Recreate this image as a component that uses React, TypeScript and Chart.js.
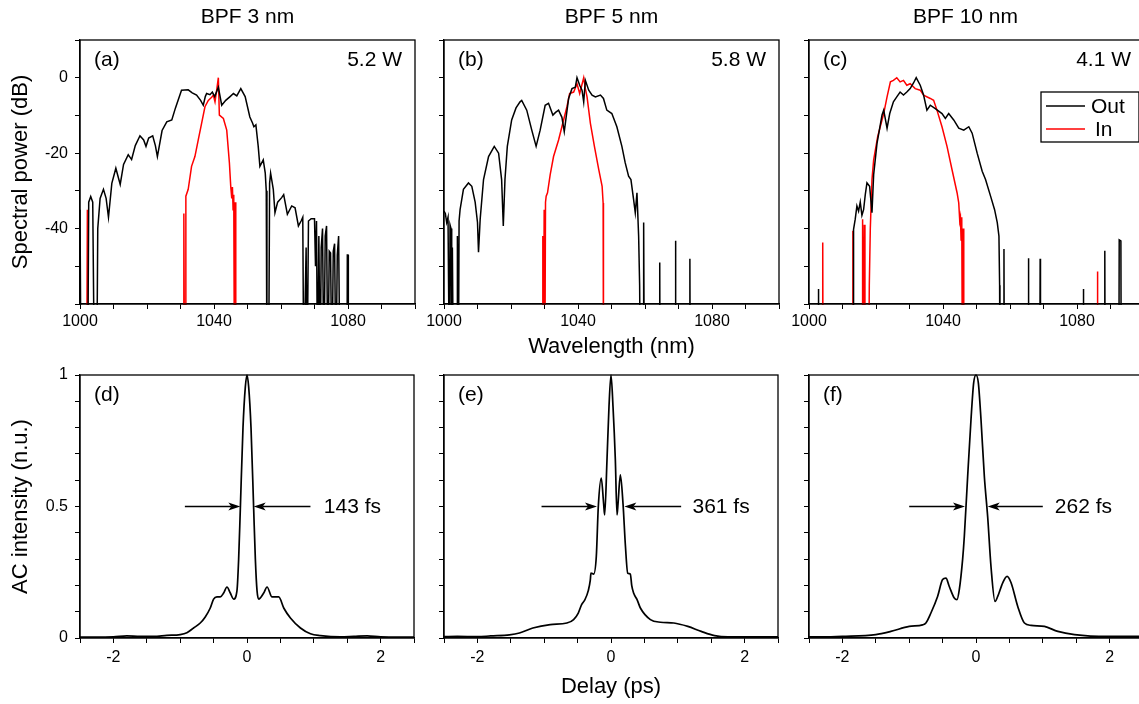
import React, { useEffect, useRef } from "react";
import { Chart, registerables } from "chart.js";

Chart.register(...registerables);

const FONT = "'Liberation Sans', Arial, Helvetica, sans-serif";

// ---------------- text / ticks ----------------
const panelTitles = ["BPF 3 nm", "BPF 5 nm", "BPF 10 nm"];
const panelLetters = ["(a)", "(b)", "(c)", "(d)", "(e)", "(f)"];
const powerLabels = ["5.2 W", "5.8 W", "4.1 W"];
const fwhmLabels = ["143 fs", "361 fs", "262 fs"];
const seriesNames = ["Out", "In"];
const wavelengthLabelTicks = [1000, 1040, 1080];
const powerLabelTicks = [0, -20, -40];
const delayLabelTicks = [-2, 0, 2];
const acLabelTicks = [0, 0.5, 1];

// ---------------- spectra (nm, dB) ----------------
const specOutA: [number, number][] = [
  [1000, -35], [1000.3, -80], [1002.3, -80], [1002.6, -33], [1003.2, -31.5], [1003.8, -33], [1004.3, -80],
  [1005.0, -80], [1005.3, -40], [1006, -32], [1007, -29.6], [1007.8, -32], [1008.5, -37], [1009.5, -28],
  [1010.7, -24], [1012, -28.3], [1013, -23], [1014.4, -20.4], [1015.4, -21.7], [1016.5, -18], [1017.9, -15.4],
  [1019, -16.5], [1019.7, -18.2], [1020.5, -16], [1021.7, -15.4], [1022.5, -18], [1023.1, -20.9], [1024.5, -14],
  [1025.9, -11.7], [1027.4, -11.2], [1028.5, -8], [1030.3, -3.3], [1032.3, -3.2], [1033.5, -4], [1034.8, -4.6],
  [1036.0, -6], [1036.8, -7.3], [1037.4, -5], [1037.8, -4.2], [1038.8, -4.5], [1039.5, -3.8], [1040.2, -5],
  [1041.3, -2.5], [1042.3, -7.3], [1043.5, -6], [1044.8, -5], [1045.8, -4.2], [1046.8, -4.8], [1048, -2.9],
  [1049.3, -5], [1050.7, -10.4], [1051.5, -12], [1051.9, -13], [1052.5, -12.5], [1053.2, -18.2], [1053.7, -23.5],
  [1054.7, -21.8], [1055.3, -25.3], [1055.6, -30], [1055.8, -80], [1056.3, -80], [1056.6, -28], [1056.9, -25.3],
  [1057.7, -29.6], [1058.2, -35.8], [1059, -33], [1060.2, -31.8], [1060.8, -31], [1061.9, -36.2], [1063.2, -34],
  [1064.2, -34.5], [1065.2, -39.3], [1066, -38], [1066.5, -37], [1066.8, -80], [1067.5, -45], [1067.8, -80],
  [1068.2, -38], [1069, -37.4], [1070, -37.4], [1070.3, -50], [1070.6, -38], [1070.9, -80], [1071.3, -42],
  [1071.7, -80], [1072, -45], [1072.4, -40], [1072.8, -80], [1073.2, -42], [1073.6, -39.3], [1074, -80],
  [1074.4, -46], [1074.8, -46.5], [1075.2, -80], [1075.6, -46], [1076, -44], [1076.4, -80], [1076.8, -47],
  [1077.2, -42], [1077.6, -80], [1079.7, -80], [1079.8, -47], [1080.0, -47], [1080.1, -80],
];
const specInA: [number, number][] = [
  [1002.0, -80], [1002.2, -35], [1002.4, -80], [1030.9, -80], [1031.0, -36], [1031.2, -80], [1031.4, -80],
  [1031.6, -31.4], [1032.3, -29.6], [1033.3, -23.5], [1034.3, -20.9], [1035.3, -16.5], [1036.3, -12.1],
  [1037.3, -7.7], [1038.3, -6], [1039.3, -5.2], [1039.8, -4.6], [1040.3, -6.4], [1040.8, -3.3], [1041.3, 0],
  [1041.6, -9.9], [1042.8, -10.8], [1043.8, -13.9], [1044.6, -22.6], [1045.0, -28.8], [1045.3, -32],
  [1045.5, -29], [1045.7, -35], [1045.9, -31], [1046.1, -80], [1046.3, -33], [1046.5, -80],
];
const specOutB: [number, number][] = [
  [1000, -35.4], [1000.4, -36], [1000.8, -38.4], [1001.2, -37], [1001.6, -80], [1001.8, -39], [1002.1, -40],
  [1002.3, -80], [1002.5, -45], [1002.8, -80], [1003.9, -80], [1004.0, -42], [1004.3, -80], [1004.5, -38],
  [1004.8, -35], [1005.8, -29.6], [1007.3, -27.9], [1008.3, -28.8], [1009.3, -33], [1010.0, -38.4],
  [1010.3, -46.3], [1010.8, -37.5], [1011.8, -27], [1013.3, -20.9], [1015.0, -18.2], [1016.3, -20],
  [1017.2, -27], [1017.7, -39.3], [1018.2, -27], [1018.9, -18.2], [1020.2, -11.2], [1021.5, -8], [1022.7, -6.4],
  [1023.2, -6], [1024.7, -8.6], [1026.2, -13.9], [1027.5, -18.2], [1028.7, -13.9], [1030.2, -7.3],
  [1031.2, -6.8], [1032.5, -9.9], [1033.3, -9.2], [1034.2, -8.6], [1035.2, -10.5], [1035.9, -14.3],
  [1036.6, -9.5], [1037.2, -5.5], [1038.2, -2.9], [1039.2, -2.5], [1039.7, 0], [1040.5, -2], [1041.2, -3.3],
  [1041.7, -6.4], [1042.2, -0.7], [1043.2, -3.3], [1044.2, -4.6], [1045.2, -5.1], [1046.7, -4.6], [1047.6, -5.5],
  [1048.6, -8.6], [1050.1, -9.5], [1051.6, -13], [1053.1, -18.2], [1054.1, -22.6], [1055.1, -26.1],
  [1055.8, -27], [1056.6, -32.3], [1057.1, -35.8], [1057.6, -30.5], [1058.1, -42], [1058.4, -55], [1058.6, -80],
  [1059.5, -80], [1059.6, -38.4], [1059.8, -80], [1064.3, -80], [1064.4, -49], [1064.5, -80], [1069.0, -80],
  [1069.1, -43.2], [1069.2, -80], [1073.3, -80], [1073.4, -48], [1073.5, -80],
];
const specInB: [number, number][] = [
  [1029.4, -80], [1029.5, -42], [1029.7, -80], [1029.9, -35], [1030.1, -80], [1030.3, -33], [1030.5, -31.4],
  [1030.9, -30.5], [1031.7, -25.7], [1032.7, -20.9], [1034.2, -16.5], [1035.7, -11.2], [1036.7, -7.7],
  [1037.5, -4.2], [1038.7, -3.8], [1039.7, -1.6], [1040.5, -4.2], [1041.7, 0], [1042.2, -2.9], [1042.7, -5.1],
  [1043.7, -12.1], [1044.9, -18.2], [1046.2, -24.4], [1047.2, -28.8], [1047.5, -33.2], [1047.6, -80],
];
const specOutC: [number, number][] = [
  [1002.7, -80], [1002.8, -56], [1002.9, -80], [1013.2, -80], [1013.3, -40.2], [1013.8, -37.5], [1014.3, -34],
  [1014.8, -35.4], [1015.3, -33], [1015.8, -36.5], [1016.3, -35], [1016.8, -31], [1017.3, -27.9],
  [1018.1, -28.8], [1018.8, -35.8], [1019.3, -25.7], [1020.3, -17.4], [1021.8, -9.9], [1022.3, -8.6],
  [1023.3, -13.4], [1024.1, -9.5], [1025.2, -6.4], [1026.2, -5.1], [1027.2, -3.8], [1028.2, -4.6],
  [1029.2, -3.8], [1030.2, -2.9], [1031.2, -1.4], [1032.0, 0], [1033.2, -2], [1034.2, -4.6], [1035.2, -8.6],
  [1036.2, -7.3], [1037.7, -8.2], [1039.7, -9.5], [1040.7, -10.8], [1041.7, -9.5], [1043.2, -11.2],
  [1044.7, -13.4], [1046.2, -13.9], [1047.7, -13], [1048.7, -14.7], [1050.2, -20], [1051.7, -24.8],
  [1052.7, -27], [1054.2, -31.4], [1055.4, -35], [1056.2, -38.4], [1056.7, -42], [1056.9, -55], [1057.0, -80],
  [1058.1, -80], [1058.2, -45.4], [1058.3, -80], [1065.4, -80], [1065.5, -47.9], [1065.6, -80], [1068.9, -80],
  [1069.0, -48], [1069.1, -80], [1081.8, -80], [1081.9, -56], [1082.0, -80], [1088.2, -80], [1088.3, -45.9],
  [1088.4, -80], [1092.5, -80], [1092.6, -43], [1093.1, -43.3], [1093.2, -80],
];
const specInC: [number, number][] = [
  [1004.0, -80], [1004.1, -43.7], [1004.2, -80], [1013.0, -80], [1013.1, -40.6], [1013.2, -80], [1015.9, -80],
  [1016.0, -37.5], [1016.2, -80], [1016.5, -39], [1016.7, -80], [1017.8, -80], [1018.0, -55], [1018.3, -40],
  [1018.8, -27], [1019.3, -21.8], [1020.5, -15.6], [1022.3, -9.5], [1023.3, -5.1], [1024.3, -1.1],
  [1025.2, -0.7], [1026.2, 0], [1027.2, -1.1], [1028.2, -0.7], [1029.2, -2], [1030.2, -1.6], [1031.7, -2.9],
  [1033.2, -3.3], [1034.2, -4.6], [1036.2, -5.5], [1037.2, -6], [1038.2, -8.6], [1039.7, -13], [1041.2, -18.2],
  [1042.7, -24.4], [1044.2, -30.5], [1044.7, -33.2], [1045.0, -38], [1045.2, -37], [1045.4, -43],
  [1045.6, -37], [1045.8, -80], [1046.0, -40], [1046.2, -80], [1086.0, -80], [1086.1, -51.4], [1086.2, -80],
];

// ---------------- autocorrelation (ps, n.u.) ----------------
const acD: [number, number][] = [
  [-2.5, 0.003], [-2.3, 0.003], [-2.0, 0.004], [-1.8, 0.008], [-1.6, 0.006], [-1.4, 0.006], [-1.2, 0.01],
  [-1.0, 0.013], [-0.9, 0.02], [-0.8, 0.038], [-0.7, 0.057], [-0.625, 0.08], [-0.55, 0.114], [-0.5, 0.148],
  [-0.45, 0.156], [-0.4, 0.156], [-0.35, 0.171], [-0.3, 0.194], [-0.25, 0.171], [-0.2, 0.148], [-0.15, 0.18],
  [-0.125, 0.3], [-0.1, 0.49], [-0.06, 0.8], [-0.025, 0.955], [0, 1.0], [0.025, 0.955], [0.06, 0.8],
  [0.1, 0.49], [0.125, 0.3], [0.15, 0.18], [0.175, 0.148], [0.25, 0.171], [0.3, 0.194], [0.375, 0.156],
  [0.475, 0.156], [0.55, 0.114], [0.65, 0.076], [0.8, 0.038], [0.95, 0.016], [1.1, 0.009], [1.4, 0.004],
  [1.6, 0.006], [1.8, 0.008], [2.0, 0.004], [2.3, 0.003], [2.5, 0.003],
];
const acE: [number, number][] = [
  [-2.5, 0.005], [-2.3, 0.006], [-2.0, 0.005], [-1.8, 0.008], [-1.52, 0.012], [-1.37, 0.019], [-1.17, 0.038],
  [-0.91, 0.051], [-0.66, 0.057], [-0.56, 0.07], [-0.49, 0.095], [-0.44, 0.127], [-0.39, 0.146],
  [-0.34, 0.18], [-0.31, 0.22], [-0.3, 0.247], [-0.26, 0.243], [-0.22, 0.31], [-0.19, 0.5], [-0.146, 0.608],
  [-0.11, 0.51], [-0.095, 0.468], [-0.06, 0.677], [-0.03, 0.88], [0, 1.0], [0.03, 0.88], [0.065, 0.677],
  [0.09, 0.468], [0.105, 0.51], [0.14, 0.62], [0.18, 0.51], [0.216, 0.35], [0.25, 0.247], [0.29, 0.243],
  [0.31, 0.2], [0.34, 0.17], [0.39, 0.146], [0.44, 0.114], [0.59, 0.07], [0.74, 0.06], [0.94, 0.057],
  [1.15, 0.044], [1.35, 0.025], [1.55, 0.009], [1.75, 0.004], [2.0, 0.004], [2.3, 0.004], [2.5, 0.004],
];
const acF: [number, number][] = [
  [-2.5, 0.004], [-2.3, 0.004], [-2.0, 0.006], [-1.5, 0.013], [-1.275, 0.025], [-1.0, 0.044], [-0.8, 0.05],
  [-0.75, 0.057], [-0.675, 0.095], [-0.575, 0.158], [-0.5, 0.222], [-0.45, 0.228], [-0.4, 0.196],
  [-0.325, 0.152], [-0.285, 0.146], [-0.25, 0.184], [-0.2, 0.3], [-0.175, 0.386], [-0.125, 0.614],
  [-0.075, 0.83], [-0.035, 0.97], [0, 1.0], [0.035, 0.97], [0.075, 0.83], [0.125, 0.614], [0.175, 0.46],
  [0.225, 0.27], [0.285, 0.139], [0.325, 0.158], [0.4, 0.21], [0.465, 0.234], [0.525, 0.21], [0.625, 0.12],
  [0.725, 0.057], [0.825, 0.048], [1.025, 0.044], [1.225, 0.025], [1.475, 0.013], [1.975, 0.006],
  [2.45, 0.006], [2.5, 0.006],
];

// FWHM arrows: [left start, left tip, right start, right tip] (ps), label x (ps)
const arrowsD = [-0.93, -0.1, 0.95, 0.1];
const arrowsE = [-1.04, -0.21, 1.05, 0.2];
const arrowsF = [-1.0, -0.165, 1.0, 0.175];
const fwhmLabelX = [1.15, 1.22, 1.18];

// ---------------- panel specs ----------------
type Series = { name: string; color: string; data: [number, number][] };
type Panel = {
  id: string;
  kind: "spec" | "ac";
  L: number; T: number; R: number; B: number;
  letter: string;
  corner?: string;
  title?: string;
  titleShift?: number;
  series: Series[];
  yLabels: boolean;
  yTitle?: string;
  xTitle?: string;
  legend?: boolean;
  arrows?: number[];
  fwhm?: string;
  fwhmX?: number;
};

const BLACK = "#000000";
const RED = "#ff0000";

const panels: Panel[] = [
  { id: "a", kind: "spec", L: 80, T: 40, R: 415, B: 304, letter: panelLetters[0], corner: powerLabels[0], title: panelTitles[0], titleShift: 0,
    series: [{ name: seriesNames[0], color: BLACK, data: specOutA }, { name: seriesNames[1], color: RED, data: specInA }],
    yLabels: true, yTitle: "Spectral power (dB)" },
  { id: "b", kind: "spec", L: 444, T: 40, R: 779, B: 304, letter: panelLetters[1], corner: powerLabels[1], title: panelTitles[1], titleShift: 0,
    series: [{ name: seriesNames[0], color: BLACK, data: specOutB }, { name: seriesNames[1], color: RED, data: specInB }],
    yLabels: false, xTitle: "Wavelength (nm)" },
  { id: "c", kind: "spec", L: 809, T: 40, R: 1144, B: 304, letter: panelLetters[2], corner: powerLabels[2], title: panelTitles[2], titleShift: -11,
    series: [{ name: seriesNames[0], color: BLACK, data: specOutC }, { name: seriesNames[1], color: RED, data: specInC }],
    yLabels: false, legend: true },
  { id: "d", kind: "ac", L: 80, T: 375, R: 414, B: 638, letter: panelLetters[3],
    series: [{ name: "AC", color: BLACK, data: acD }], yLabels: true, yTitle: "AC intensity (n.u.)",
    arrows: arrowsD, fwhm: fwhmLabels[0], fwhmX: fwhmLabelX[0] },
  { id: "e", kind: "ac", L: 444, T: 375, R: 778, B: 638, letter: panelLetters[4],
    series: [{ name: "AC", color: BLACK, data: acE }], yLabels: false, xTitle: "Delay (ps)",
    arrows: arrowsE, fwhm: fwhmLabels[1], fwhmX: fwhmLabelX[1] },
  { id: "f", kind: "ac", L: 809, T: 375, R: 1143, B: 638, letter: panelLetters[5],
    series: [{ name: "AC", color: BLACK, data: acF }], yLabels: false,
    arrows: arrowsF, fwhm: fwhmLabels[2], fwhmX: fwhmLabelX[2] },
];

const near = (v: number, list: number[]) => list.some((t) => Math.abs(t - v) < 1e-6);
const fmt = (v: number) => String(Math.round(v * 100) / 100);

function drawArrow(ctx: CanvasRenderingContext2D, x0: number, x1: number, y: number) {
  const dir = Math.sign(x1 - x0);
  const len = 12, half = 4, notch = 9;
  ctx.beginPath();
  ctx.moveTo(x0, y);
  ctx.lineTo(x1 - dir * notch, y);
  ctx.lineWidth = 1.3;
  ctx.stroke();
  ctx.beginPath();
  ctx.moveTo(x1, y);
  ctx.lineTo(x1 - dir * len, y - half);
  ctx.lineTo(x1 - dir * notch, y);
  ctx.lineTo(x1 - dir * len, y + half);
  ctx.closePath();
  ctx.fill();
}

function decoPlugin(p: Panel) {
  return {
    id: "deco_" + p.id,
    afterDraw(chart: any) {
      const { ctx, chartArea: a, scales } = chart;
      ctx.save();
      ctx.strokeStyle = BLACK;
      ctx.fillStyle = BLACK;
      ctx.lineWidth = 1.3;
      ctx.strokeRect(a.left, a.top, a.right - a.left, a.bottom - a.top);

      ctx.font = `21px ${FONT}`;
      ctx.textBaseline = "middle";
      ctx.textAlign = "left";
      ctx.fillText(p.letter, a.left + 14, a.top + 20);
      if (p.corner) {
        ctx.textAlign = "right";
        ctx.fillText(p.corner, a.right - 13, a.top + 20);
      }
      if (p.title) {
        ctx.textAlign = "center";
        ctx.font = `21px ${FONT}`;
        ctx.fillText(p.title, (a.left + a.right) / 2 + (p.titleShift || 0), a.top - 23);
      }
      if (p.arrows && p.fwhm) {
        const xs = scales.x, ys = scales.y;
        const yy = ys.getPixelForValue(0.5);
        const [ls, lt, rs, rt] = p.arrows;
        drawArrow(ctx, xs.getPixelForValue(ls), xs.getPixelForValue(lt), yy);
        drawArrow(ctx, xs.getPixelForValue(rs), xs.getPixelForValue(rt), yy);
        ctx.font = `21px ${FONT}`;
        ctx.textAlign = "left";
        ctx.fillText(p.fwhm, xs.getPixelForValue(p.fwhmX || 0), yy + 1);
      }
      if (p.legend) {
        const bx = a.right - 103, by = a.top + 52, bw = 98, bh = 50;
        ctx.fillStyle = "#ffffff";
        ctx.fillRect(bx, by, bw, bh);
        ctx.lineWidth = 1.3;
        ctx.strokeStyle = BLACK;
        ctx.strokeRect(bx, by, bw, bh);
        ctx.font = `21px ${FONT}`;
        ctx.textAlign = "left";
        p.series.forEach((s, i) => {
          const yy = by + 14 + i * 23;
          ctx.strokeStyle = s.color;
          ctx.lineWidth = 1.6;
          ctx.beginPath();
          ctx.moveTo(bx + 5, yy);
          ctx.lineTo(bx + 44, yy);
          ctx.stroke();
          ctx.fillStyle = BLACK;
          ctx.fillText(s.name, bx + 50 + (i === 1 ? 4 : 0), yy + 1);
        });
      }
      ctx.restore();
    },
  };
}

function PanelChart({ p }: { p: Panel }) {
  const ref = useRef<HTMLCanvasElement | null>(null);
  const padL = 80;
  const padR = 10;
  const padT = p.kind === "spec" ? 40 : 35;
  const padB = p.kind === "spec" ? 60 : 66;
  const width = p.R - p.L + padL + padR;
  const height = p.B - p.T + padT + padB;
  const left = p.L - padL;
  const top = p.T - padT;

  useEffect(() => {
    if (!ref.current) return;
    const isSpec = p.kind === "spec";
    const xLabels = isSpec ? wavelengthLabelTicks : delayLabelTicks;
    const yLabels = isSpec ? powerLabelTicks : acLabelTicks;
    const tickFont = { family: FONT, size: 16 };
    const titleFont = { family: FONT, size: 22 };
    const chart = new Chart(ref.current, {
      type: "line",
      data: {
        datasets: p.series.map((s) => ({
          label: s.name,
          data: s.data.map(([x, y]) => ({ x, y })),
          borderColor: s.color,
          backgroundColor: s.color,
          borderWidth: isSpec ? 1.5 : 1.7,
          pointRadius: 0,
          fill: false,
          tension: 0,
          cubicInterpolationMode: isSpec ? "default" : "monotone",
          clip: 1,
        })),
      },
      options: {
        responsive: false,
        animation: false,
        events: [],
        layout: { padding: { left: 0, top: padT, right: padR, bottom: 0 } },
        plugins: { legend: { display: false }, tooltip: { enabled: false }, title: { display: false } },
        scales: {
          x: {
            type: "linear",
            min: isSpec ? 1000 : -2.5,
            max: isSpec ? 1100 : 2.5,
            ticks: {
              stepSize: isSpec ? 10 : 0.5,
              autoSkip: false,
              maxRotation: 0,
              minRotation: 0,
              color: BLACK,
              font: tickFont,
              padding: isSpec ? 3 : 5,
              callback: (v: any) => (near(Number(v), xLabels) ? fmt(Number(v)) : ""),
            },
            grid: { drawOnChartArea: false, drawTicks: true, tickLength: 5, color: BLACK, lineWidth: 1 },
            border: { display: true, color: BLACK, width: 1.3 },
            title: {
              display: !!p.xTitle,
              text: p.xTitle || "",
              color: BLACK,
              font: titleFont,
              padding: { top: 0, bottom: 4 },
            },
            afterFit: (s: any) => {
              s.height = padB;
            },
          },
          y: {
            type: "linear",
            min: isSpec ? -60 : 0,
            max: isSpec ? 10 : 1,
            ticks: {
              stepSize: isSpec ? 10 : 0.1,
              autoSkip: false,
              color: BLACK,
              font: tickFont,
              padding: 7,
              callback: (v: any) => (p.yLabels && near(Number(v), yLabels) ? fmt(Number(v)) : ""),
            },
            grid: { drawOnChartArea: false, drawTicks: true, tickLength: 5, color: BLACK, lineWidth: 1 },
            border: { display: true, color: BLACK, width: 1.3 },
            title: {
              display: !!p.yTitle,
              text: p.yTitle || "",
              color: BLACK,
              font: titleFont,
              padding: { top: 8, bottom: 0 },
            },
            afterFit: (s: any) => {
              s.width = padL;
            },
          },
        },
      } as any,
      plugins: [decoPlugin(p)],
    });
    return () => chart.destroy();
  }, [p]);

  return (
    <canvas
      ref={ref}
      width={width}
      height={height}
      style={{ position: "absolute", left: left + "px", top: top + "px", width: width + "px", height: height + "px" }}
    />
  );
}

export default function App() {
  return (
    <div
      style={{
        position: "absolute",
        left: 0,
        top: 0,
        width: "1139px",
        height: "704px",
        overflow: "hidden",
        background: "#ffffff",
      }}
    >
      {panels.map((p) => (
        <PanelChart key={p.id} p={p} />
      ))}
    </div>
  );
}
